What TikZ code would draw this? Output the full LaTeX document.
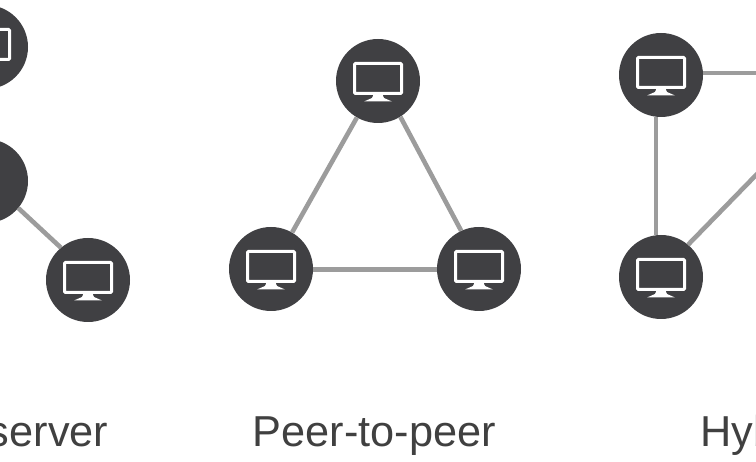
\documentclass[tikz,border=0pt]{standalone}
\usepackage{fontspec}
\setmainfont{Liberation Sans}
\usepackage{tikz}
\definecolor{peerfill}{HTML}{404043}
\definecolor{linkgray}{HTML}{9C9C9C}
\definecolor{labelgray}{HTML}{404040}
\tikzset{
	peer/.style={circle, fill=peerfill, minimum size=84pt, inner sep=0},
	link/.style={draw=linkgray, line width=4.6pt},
	caption/.style={text=labelgray, font=\fontsize{43.3}{43.3}\selectfont, inner sep=0, anchor=base},
	pics/monitor/.style={code={
		\draw[white, line width=3pt, fill=peerfill, rounded corners=1pt] (-23.5,-17.5) rectangle (23.5,12.5);
		\fill[white] (-4,12.5) -- (4,12.5) -- (6,17) -- (14,20.5) -- (-14,20.5) -- (-6,17) -- cycle;
	}}
}
\begin{document}
\begin{tikzpicture}[x=1pt, y=-1pt]
	\useasboundingbox (0,0) rectangle (756,462);
	\clip (0,0) rectangle (756,462);
	\foreach \name/\where in {server-top/{-14,47}, server-mid/{-14,181}, server-low/{88,280},
		peer-top/{378,81}, peer-left/{271,269}, peer-right/{479,269},
		hybrid-top/{661,75}, hybrid-low/{661,277}}
		\node[peer] (\name) at (\where) {};
	\foreach \where in {{-14,47}, {88,280}, {378,81}, {271,269}, {479,269}, {661,75}, {661,277}}
		\pic at (\where) {monitor};
	\coordinate (hybrid-east) at (760,73);
	\coordinate (hybrid-far) at (760,171);
	\path[link]
	(server-mid.-40) edge (server-low.130)
	(peer-top.240) edge (peer-left.60)
	(peer-top.-58) edge (peer-right.115)
	(peer-left.-1.4) edge (peer-right.181.4)
	(hybrid-top.263) edge (hybrid-low.97)
	(hybrid-top.east |- hybrid-east) edge (hybrid-east)
	(hybrid-low.50) edge (hybrid-far);
	\node[caption, anchor=base east] (server-label) at (108.5,447) {server};
	\node[caption] (peer-label) at (374.5,447) {Peer-to-peer};
	\node[caption, anchor=base west] (hybrid-label) at (700,447) {Hyb};
\end{tikzpicture}
\end{document}
